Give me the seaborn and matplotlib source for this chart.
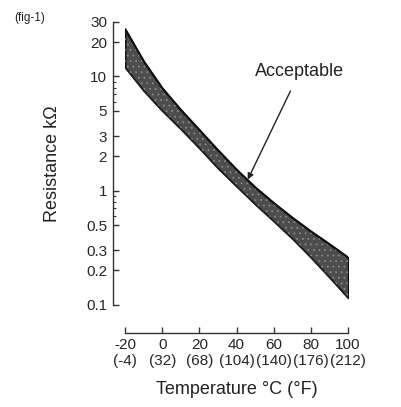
import numpy as np
import pandas as pd
import seaborn as sns
import matplotlib
matplotlib.use("Agg")
import matplotlib.pyplot as plt
from matplotlib.ticker import FixedLocator, NullFormatter

# values (resistance in kOhm)
temps_c = [-20, -10, 0, 10, 20, 30, 40, 50, 60, 70, 80, 90, 100]
r_upper = [26, 13.6, 7.9, 5.1, 3.4, 2.26, 1.53, 1.07, 0.78, 0.58, 0.44, 0.34, 0.26]
r_lower = [12, 7.5, 5.0, 3.46, 2.35, 1.57, 1.09, 0.76, 0.54, 0.38, 0.26, 0.174, 0.115]

x_ticks = [-20, 0, 20, 40, 60, 80, 100]
x_labels = ["-20\n(-4)", "0\n(32)", "20\n(68)", "40\n(104)", "60\n(140)", "80\n(176)", "100\n(212)"]
y_ticks = [30, 20, 10, 5, 3, 2, 1, 0.5, 0.3, 0.2, 0.1]
y_labels = ["30", "20", "10", "5", "3", "2", "1", "0.5", "0.3", "0.2", "0.1"]
y_minor = [6, 7, 8, 9, 0.6, 0.7, 0.8, 0.9]

sns.set_theme(style="white")
plt.rcParams["font.family"] = ["Liberation Sans", "DejaVu Sans"]
plt.rcParams["hatch.linewidth"] = 0.6

df = pd.DataFrame({"T": temps_c, "upper": r_upper, "lower": r_lower})

fig = plt.figure(figsize=(4.01, 4.07), dpi=100)
ax = fig.add_axes([0.312, 0.251, 0.556, 0.695])

# band, dark fill with a light stipple like the scan
ax.fill_between(df["T"], df["lower"], df["upper"], facecolor="#4d4d4d",
                edgecolor="#111111", linewidth=1.2)
ax.fill_between(df["T"], df["lower"], df["upper"], facecolor="none",
                edgecolor="#8a8a8a", hatch="...", linewidth=0)
sns.lineplot(data=df, x="T", y="upper", ax=ax, color="#111111", lw=1.5)
sns.lineplot(data=df, x="T", y="lower", ax=ax, color="#222222", lw=1.0)

ax.set_yscale("log")
ax.set_xlim(-20, 100)
ax.set_ylim(0.1, 30)

ax.set_xticks(x_ticks)
ax.set_xticklabels(x_labels, fontsize=10.5, color="#222222", linespacing=1.25)
ax.yaxis.set_major_locator(FixedLocator(y_ticks))
ax.set_yticklabels(y_labels, fontsize=10.5, color="#222222")
ax.yaxis.set_minor_locator(FixedLocator(y_minor))
ax.yaxis.set_minor_formatter(NullFormatter())

for s in ["top", "right"]:
    ax.spines[s].set_visible(False)
ax.spines["left"].set_position(("outward", 9))
ax.spines["bottom"].set_position(("outward", 20))
for s in ["left", "bottom"]:
    ax.spines[s].set_color("#333333")
    ax.spines[s].set_linewidth(1.0)

ax.tick_params(axis="both", which="major", direction="in", length=4,
               width=1.0, color="#333333", pad=4, left=True, bottom=True)
ax.tick_params(axis="y", which="minor", direction="in", length=2.5,
               width=0.8, color="#333333", left=True)

ax.set_xlabel("Temperature °C (°F)", fontsize=13, color="#222222", labelpad=9)
ax.set_ylabel("Resistance kΩ", fontsize=13, color="#222222", labelpad=18)

ax.annotate("Acceptable", xy=(46, 1.25), xytext=(74, 11),
            fontsize=13, color="#222222", ha="center", va="center",
            arrowprops=dict(arrowstyle="-|>", color="#222222", lw=1.0,
                            shrinkA=6, shrinkB=0, mutation_scale=9))

fig.text(0.035, 0.955, "(fig-1)", fontsize=8.5, color="#222222", va="center")

fig.savefig("out.png", dpi=100)
